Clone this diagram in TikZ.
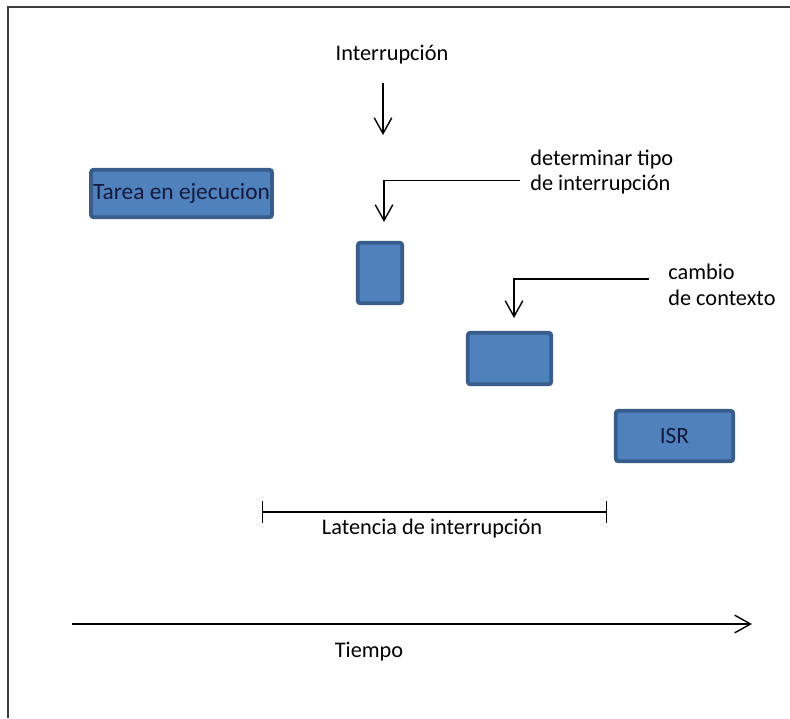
\documentclass[tikz,border=0pt]{standalone}
\usepackage{fontspec}
\setmainfont{Carlito}
\usepackage{xcolor}
\usepackage{tikz}
\usetikzlibrary{arrows.meta, positioning}
\definecolor{boxblue}{RGB}{79,129,189}
\definecolor{boxedge}{RGB}{56,93,138}
\definecolor{boxtext}{RGB}{20,25,60}
\definecolor{framegray}{RGB}{60,60,60}
\tikzset{
    tarea/.style={rectangle, draw=boxedge, fill=boxblue, line width=2.2pt, rounded corners=1.5pt, inner sep=0pt, text=boxtext, font=\fontsize{13.3}{15}\selectfont},
    lbl/.style={inner sep=0pt, font=\fontsize{12.7}{14.5}\selectfont},
    flecha/.style={line width=0.8pt, -{Straight Barb[length=9pt, width=10pt]}}
}

\begin{document}
\begin{tikzpicture}[x=0.02cm, y=-0.02cm]
        \useasboundingbox (0,0) rectangle (790,718);
        \draw[line width=1.4pt, framegray] (8,718) -- (8,7) -- (790,7);
        
        \node at (181.5,193.5) [tarea, minimum width=3.62cm, minimum height=0.95cm] (ejec) {Tarea en ejecucion};
        \node at (380,273) [tarea, minimum width=0.89cm, minimum height=1.21cm] (tipobox) {};
        \node at (509.5,358.5) [tarea, minimum width=1.67cm, minimum height=1.03cm] (ctxbox) {};
        \node at (674.5,436) [tarea, minimum width=2.35cm, minimum height=1.01cm] (isr) {ISR};
        
        \node at (392,55) [lbl] (irq) {Interrupción};
        \coordinate (irqFin) at (383,135);
        \draw[flecha] (irq.south -| irqFin) ++(0,18) -- (irqFin);
        
        \node at (530,172) [lbl, anchor=west, align=left] (tipo) {determinar tipo\\de interrupción};
        \coordinate (tipoFin) at (384,222);
        \draw[flecha] ([xshift=-5.7pt, yshift=-5pt]tipo.west) -| (tipoFin);
        
        \node at (668,285) [lbl, anchor=west, align=left] (ctx) {cambio\\de contexto};
        \coordinate (ctxFin) at (514,318);
        \draw[flecha] ([xshift=-11pt, yshift=3.4pt]ctx.west) -| (ctxFin);
        
        \coordinate (latA) at (262,512);
        \coordinate (latB) at (607,512);
        \draw[line width=0.8pt, {Bar[width=12pt]}-{Bar[width=12pt]}] (latA) -- (latB);
        \node at (432,529) [lbl] (lat) {Latencia de interrupción};
        
        \coordinate (t0) at (72,624);
        \coordinate (t1) at (752,624);
        \draw[flecha] (t0) -- (t1);
        \node at (369,652) [lbl] (tiempo) {Tiempo};
    \end{tikzpicture}
\end{document}
